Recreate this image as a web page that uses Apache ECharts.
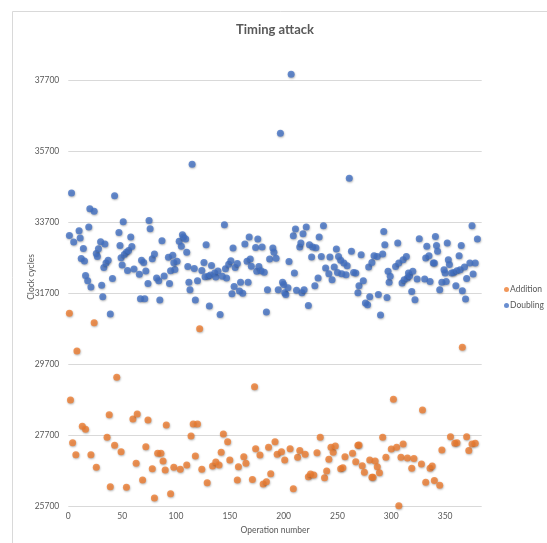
<!DOCTYPE html>
<html>
<head>
<meta charset="utf-8">
<script src="https://cdn.jsdelivr.net/npm/echarts@6/dist/echarts.min.js"></script>
<style>
html,body{margin:0;padding:0;background:#fff;}
#chart{width:547px;height:543px;}
</style>
</head>
<body>
<div id="chart"></div>
<script>
const titleText = 'Timing attack';
const xAxisTitle = 'Operation number';
const yAxisTitle = 'Clock cycles';
const seriesNames = ['Addition', 'Doubling'];
const xTicks = [0, 50, 100, 150, 200, 250, 300, 350];
const yTicks = [25700, 27700, 29700, 31700, 33700, 35700, 37700];

const additionX = [1,2,4,7,8,13,16,21,24,26,36,38,39,43,45,49,54,60,63,64,69,72,74,78,80,83,86,88,90,91,95,98,104,110,114,116,118,120,122,124,129,134,137,140,142,144,148,150,157,158,163,165,171,173,174,178,181,184,186,188,192,194,198,201,206,209,213,215,220,223,225,228,231,234,238,240,242,244,246,248,253,255,257,264,267,269,270,273,275,280,282,283,285,287,289,292,295,300,302,305,307,309,311,315,319,321,328,329,332,336,338,340,345,347,355,359,361,366,370,372,375,378];
const additionY = [31130,28685,27485,27145,30065,27945,27860,27145,30865,26790,27635,28270,26245,27410,29325,27230,26225,28150,26905,28290,26430,27370,28125,26750,25925,27185,27185,26970,26715,27980,26045,26790,26735,26855,27670,28010,27110,28010,30695,26735,26355,26825,26940,26855,27215,27730,27510,26995,26430,26805,27090,26905,26450,29060,27315,27135,26320,26385,27355,26610,27510,27155,27230,26995,27315,26185,27070,27260,27155,26525,26600,26575,27200,27635,26495,26685,27015,27355,27215,27390,26750,26780,27090,27185,26950,27410,27420,26835,26650,26995,26510,26510,26970,26805,26640,27635,27070,27305,28705,27355,25710,27070,27445,27050,26760,27035,26885,28405,26370,26760,26825,26415,26285,27275,27650,27465,27485,30170,27650,27260,27445,27465];

const doublingX = [1,3,5,10,11,12,14,15,16,18,19,20,21,24,26,27,28,30,31,32,33,34,35,37,39,41,43,47,48,49,50,51,52,54,55,56,58,59,61,66,67,68,70,71,72,74,75,76,78,80,82,84,85,87,89,93,94,95,97,99,98,101,103,105,106,107,109,110,111,112,113,115,117,118,120,124,126,127,128,130,131,132,133,136,137,139,141,143,145,146,147,149,151,152,153,154,155,157,159,160,162,164,166,167,168,169,170,174,176,175,177,179,180,182,184,185,187,190,191,193,195,197,199,200,201,202,204,205,207,209,210,211,212,215,216,217,218,219,221,223,224,226,227,229,230,232,233,235,237,239,242,243,245,247,249,250,251,253,254,256,259,258,261,263,265,267,269,270,272,274,276,278,279,280,282,284,287,288,290,292,293,294,296,297,298,299,304,306,307,310,311,312,314,315,316,317,319,320,322,324,326,332,331,333,335,336,339,340,341,342,343,345,347,349,350,351,352,353,354,356,358,360,361,363,364,365,366,368,369,370,373,375,376,378,380];
const doublingY = [33320,34520,33140,33455,33250,32675,32955,32600,32190,32045,33560,34075,31870,34000,32815,32730,32950,33145,31915,31595,32415,33080,32545,32620,31110,32110,34440,33405,33040,32695,32490,33710,32785,32845,32335,32900,33280,33010,32375,32225,31540,32620,32560,31540,32320,31970,33740,33510,32665,32800,32120,32045,31505,33175,32180,32710,31965,32330,32765,32360,32550,32595,33155,33015,33340,33280,33220,32845,32450,32005,31795,35330,32390,31505,32045,32335,32560,32160,33060,32170,31335,32210,32475,32265,32150,32320,31095,32170,33620,32385,32125,32510,32605,31680,32970,31885,32420,32530,31755,32005,31690,33080,32595,32005,33275,32660,32455,32985,33220,32315,32445,32330,32995,32285,31165,31795,32660,32970,32845,32680,31795,36200,32005,31940,31710,31660,31850,32590,37860,33315,32265,33505,31775,32995,33110,31710,33370,31795,33560,31350,33060,32715,32995,31905,32975,32125,33275,32730,33595,32405,32245,32715,32075,32430,32940,32280,32730,32620,32245,32545,32470,32215,34930,32875,32280,32265,31710,31905,32780,32045,31420,31370,32430,31595,32560,32750,32730,31660,31080,32800,33435,33060,31570,32310,32005,32170,32450,33110,32545,31980,32640,32075,32730,32125,32265,32185,31745,32310,31510,32095,33230,32685,32095,33015,32750,32025,32545,32545,33295,33035,32875,31795,32005,32355,32265,32025,33110,32640,32500,32265,32280,31905,32330,32750,32355,33040,31765,32430,31530,32105,32545,33595,32235,32545,33220];

const zip = (xs, ys) => xs.map((x, i) => [x, ys[i]]);

const FONT = 'Lato, "Open Sans", sans-serif';
const chart = echarts.init(document.getElementById('chart'));
const markerStyle = (c) => ({
  color: c,
  shadowBlur: 2,
  shadowColor: 'rgba(0,0,0,0.35)',
  shadowOffsetX: 0.5,
  shadowOffsetY: 1
});

chart.setOption({
  animation: false,
  backgroundColor: '#fff',
  title: {
    text: titleText,
    left: 270,
    textAlign: 'center',
    top: 18,
    textStyle: { fontFamily: FONT, fontSize: 13, fontWeight: 'bold', color: '#595959' }
  },
  graphic: [
    { type: 'rect', shape: { x: 12.5, y: 11.5, width: 700, height: 700 }, style: { fill: 'none', stroke: '#D9D9D9', lineWidth: 1 }, silent: true },
    { type: 'text', x: 31, y: 277, rotation: Math.PI / 2, style: { text: yAxisTitle, fill: '#595959', font: '8.5px Lato, sans-serif', textAlign: 'center', textVerticalAlign: 'middle' }, silent: true }
  ],
  legend: {
    orient: 'vertical',
    left: 499,
    top: 280,
    itemWidth: 5,
    itemHeight: 5,
    itemGap: 7,
    icon: 'circle',
    data: seriesNames,
    textStyle: { fontFamily: FONT, fontSize: 8.5, color: '#595959', padding: [0, 0, 0, -4] }
  },
  grid: { left: 68.3, right: 65.3, top: 80, bottom: 37, containLabel: false },
  xAxis: {
    type: 'value',
    min: xTicks[0],
    max: 384,
    interval: 50,
    name: xAxisTitle,
    nameLocation: 'middle',
    nameGap: 20,
    nameTextStyle: { fontFamily: FONT, fontSize: 8.5, color: '#595959' },
    axisLine: { show: false },
    axisTick: { show: false },
    splitLine: { show: false },
    axisLabel: { fontFamily: FONT, fontSize: 8.5, color: '#595959', margin: 6, showMaxLabel: false,
      formatter: v => xTicks.includes(v) ? String(v) : '' }
  },
  yAxis: {
    type: 'value',
    min: yTicks[0],
    max: yTicks[yTicks.length - 1],
    interval: 2000,
    axisLine: { show: false },
    axisTick: { show: false },
    splitLine: { lineStyle: { color: '#D9D9D9', width: 1 } },
    axisLabel: { fontFamily: FONT, fontSize: 8.5, color: '#595959', margin: 9,
      formatter: v => yTicks.includes(v) ? String(v) : '' }
  },
  series: [
    { name: seriesNames[0], type: 'scatter', symbolSize: 7, clip: false, data: zip(additionX, additionY), itemStyle: markerStyle('#ED7D31') },
    { name: seriesNames[1], type: 'scatter', symbolSize: 7, clip: false, data: zip(doublingX, doublingY), itemStyle: markerStyle('#4472C4') }
  ]
});
</script>
</body>
</html>
